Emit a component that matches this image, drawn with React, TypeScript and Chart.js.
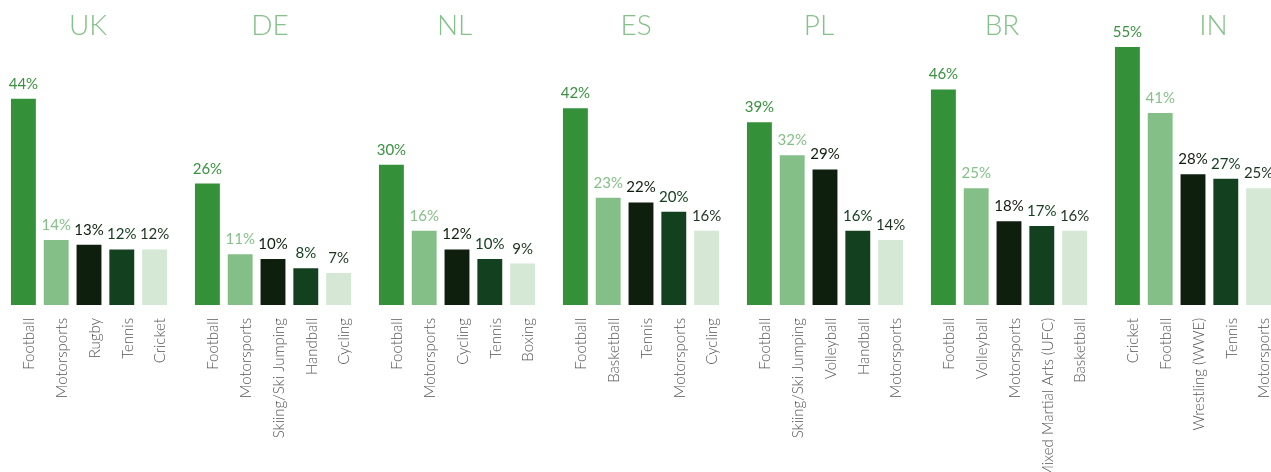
import React, { useEffect, useRef } from "react";
import { Chart, registerables } from "chart.js";

Chart.register(...registerables);

const countries = ["UK", "DE", "NL", "ES", "PL", "BR", "IN"];

const ukSports = ["Football", "Motorsports", "Rugby", "Tennis", "Cricket"];
const ukValues = [44, 14, 13, 12, 12];
const deSports = ["Football", "Motorsports", "Skiing/Ski Jumping", "Handball", "Cycling"];
const deValues = [26, 11, 10, 8, 7];
const nlSports = ["Football", "Motorsports", "Cycling", "Tennis", "Boxing"];
const nlValues = [30, 16, 12, 10, 9];
const esSports = ["Football", "Basketball", "Tennis", "Motorsports", "Cycling"];
const esValues = [42, 23, 22, 20, 16];
const plSports = ["Football", "Skiing/Ski Jumping", "Volleyball", "Handball", "Motorsports"];
const plValues = [39, 32, 29, 16, 14];
const brSports = ["Football", "Volleyball", "Motorsports", "Mixed Martial Arts (UFC)", "Basketball"];
const brValues = [46, 25, 18, 17, 16];
const inSports = ["Cricket", "Football", "Wrestling (WWE)", "Tennis", "Motorsports"];
const inValues = [55, 41, 28, 27, 25];

const sportsByCountry = [ukSports, deSports, nlSports, esSports, plSports, brSports, inSports];
const valuesByCountry = [ukValues, deValues, nlValues, esValues, plValues, brValues, inValues];

const barColors = ["#34913a", "#85bf88", "#0e1f0e", "#134120", "#d5e8d6"];
const valueLabelColors = ["#3a9140", "#85bf88", "#0e1f0e", "#134120", "#1e3321"];
const titleColor = "#85c18a";

// layout: title centre x within each panel (px)
const titleCenterX = [88, 86, 86.6, 84, 83, 82, 109.5];

const PANEL_W = 184;
const PANEL_H = 472;

function Panel({ title, titleX, labels, values }: { title: string; titleX: number; labels: string[]; values: number[] }) {
  const ref = useRef<HTMLCanvasElement | null>(null);
  useEffect(() => {
    if (!ref.current) return;
    const overlay = {
      id: "overlay",
      afterDatasetsDraw(chart: any) {
        const ctx = chart.ctx;
        ctx.save();
        ctx.font = "300 28px Lato";
        ctx.fillStyle = titleColor;
        ctx.textAlign = "center";
        ctx.textBaseline = "alphabetic";
        ctx.fillText(title, titleX, 35);
        const meta = chart.getDatasetMeta(0);
        ctx.font = "400 15px Lato";
        meta.data.forEach((bar: any, i: number) => {
          ctx.fillStyle = valueLabelColors[i];
          ctx.fillText(values[i] + "%", bar.x, bar.y - 9);
        });
        ctx.restore();
      },
    };
    const chart = new Chart(ref.current, {
      type: "bar",
      data: {
        labels,
        datasets: [
          {
            data: values,
            backgroundColor: barColors,
            borderColor: "rgba(255,255,255,0.3)",
            borderWidth: 1,
            barPercentage: 0.82,
            categoryPercentage: 1,
          },
        ],
      },
      options: {
        responsive: false,
        animation: false,
        layout: { padding: { left: 7, right: 13, top: 46, bottom: 0 } },
        plugins: {
          legend: { display: false },
          tooltip: { enabled: false },
          title: { display: false },
        },
        scales: {
          x: {
            grid: { display: false },
            border: { display: false },
            ticks: {
              minRotation: 90,
              maxRotation: 90,
              autoSkip: false,
              padding: 5,
              labelOffset: 6,
              color: "#555555",
              font: { family: "Lato", size: 15, weight: "300" },
            },
            afterFit: (s: any) => {
              s.height = PANEL_H - 305;
            },
          },
          y: { display: false, min: 0, max: 55 },
        },
      },
      plugins: [overlay],
    } as any);
    return () => chart.destroy();
  }, [title, titleX, labels, values]);
  return (
    <canvas
      ref={ref}
      width={PANEL_W}
      height={PANEL_H}
      style={{ display: "block", width: PANEL_W, height: PANEL_H, flex: "0 0 auto" }}
    />
  );
}

export default function App() {
  return (
    <div style={{ width: 1271, height: PANEL_H, overflow: "hidden", background: "#fff" }}>
      <style>{`body{margin:0;overflow:hidden;background:#fff}`}</style>
      <div style={{ display: "flex", width: PANEL_W * countries.length }}>
        {countries.map((c, i) => (
          <Panel key={c} title={c} titleX={titleCenterX[i]} labels={sportsByCountry[i]} values={valuesByCountry[i]} />
        ))}
      </div>
    </div>
  );
}
